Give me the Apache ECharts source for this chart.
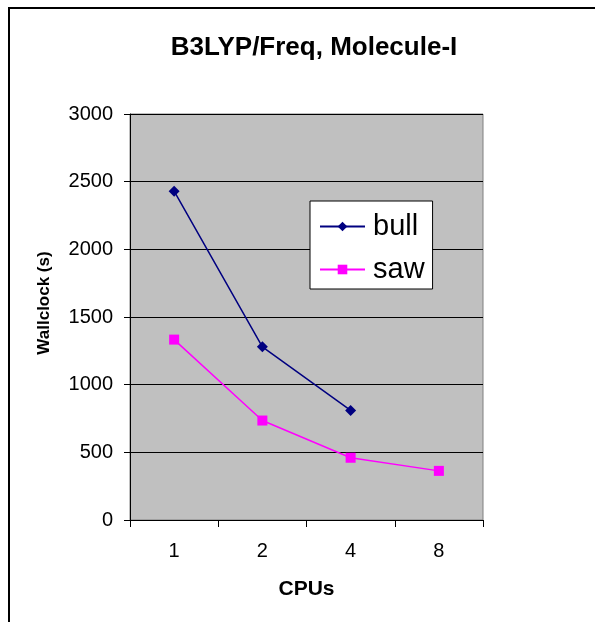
<!DOCTYPE html>
<html>
<head>
<meta charset="utf-8">
<script src="https://cdn.jsdelivr.net/npm/echarts@6/dist/echarts.min.js"></script>
<style>
  html, body { margin: 0; padding: 0; background: #fff; }
  #chart { width: 595px; height: 622px; }
</style>
</head>
<body>
<div id="chart"></div>
<script>
var cpus = ['1', '2', '4', '8'];
var bull = [2430, 1280, 810, null];
var saw = [1333, 735, 460, 363];
var yTicks = [0, 500, 1000, 1500, 2000, 2500, 3000];

var font = 'Liberation Sans, Arial, sans-serif';
var chart = echarts.init(document.getElementById('chart'));

var option = {
    backgroundColor: '#ffffff',
    animation: false,
    title: {
        text: 'B3LYP/Freq, Molecule-I',
        left: 309,
        top: 30,
        textAlign: 'center',
        textStyle: { fontFamily: font, fontSize: 26, fontWeight: 'bold', color: '#000' }
    },
    legend: {
        orient: 'vertical',
        left: 310,
        top: 201,
        padding: [11, 8, 5, 9],
        itemGap: 14,
        itemWidth: 45,
        itemHeight: 12,
        backgroundColor: '#ffffff',
        borderColor: '#000000',
        borderWidth: 1,
        borderRadius: 0,
        textStyle: { fontFamily: font, fontSize: 29, color: '#000', padding: [0, 0, 0, 3] },
        data: ['bull', 'saw']
    },
    grid: {
        left: 130,
        right: 112,
        top: 114,
        bottom: 102,
        show: true,
        backgroundColor: '#c0c0c0',
        borderColor: '#808080',
        borderWidth: 1
    },
    xAxis: {
        type: 'category',
        data: cpus,
        boundaryGap: true,
        name: 'CPUs',
        nameLocation: 'middle',
        nameGap: 59,
        nameTextStyle: { fontFamily: font, fontSize: 21, fontWeight: 'bold', color: '#000' },
        axisLine: { lineStyle: { color: '#000', width: 1 } },
        axisTick: { show: true, length: 7, lineStyle: { color: '#000' } },
        axisLabel: { fontFamily: font, fontSize: 20, color: '#000', margin: 21 },
        splitLine: { show: false }
    },
    yAxis: {
        type: 'value',
        min: yTicks[0],
        max: yTicks[yTicks.length - 1],
        interval: 500,
        name: 'Wallclock (s)',
        nameLocation: 'middle',
        nameGap: 77,
        nameTextStyle: {
            fontFamily: font, fontSize: 17, fontWeight: 'bold', color: '#000',
            padding: [0, 0, 0, 28]
        },
        axisLine: { show: true, lineStyle: { color: '#000', width: 1 } },
        axisTick: { show: true, length: 6, lineStyle: { color: '#000' } },
        axisLabel: {
            fontFamily: font, fontSize: 20, color: '#000', margin: 17,
            formatter: function (v) { return String(v); }
        },
        splitLine: { show: true, lineStyle: { color: '#000', width: 1 } }
    },
    series: [
        {
            name: 'bull',
            type: 'line',
            data: bull,
            symbol: 'diamond',
            symbolSize: 11,
            lineStyle: { color: '#000080', width: 1.5 },
            itemStyle: { color: '#000080' }
        },
        {
            name: 'saw',
            type: 'line',
            data: saw,
            symbol: 'rect',
            symbolSize: 10,
            lineStyle: { color: '#ff00ff', width: 1.5 },
            itemStyle: { color: '#ff00ff' }
        }
    ],
    graphic: [
        {
            type: 'rect',
            shape: { x: 9, y: 8, width: 700, height: 700 },
            style: { fill: null, stroke: '#000', lineWidth: 2 },
            silent: true
        }
    ]
};
chart.setOption(option);
</script>
</body>
</html>
